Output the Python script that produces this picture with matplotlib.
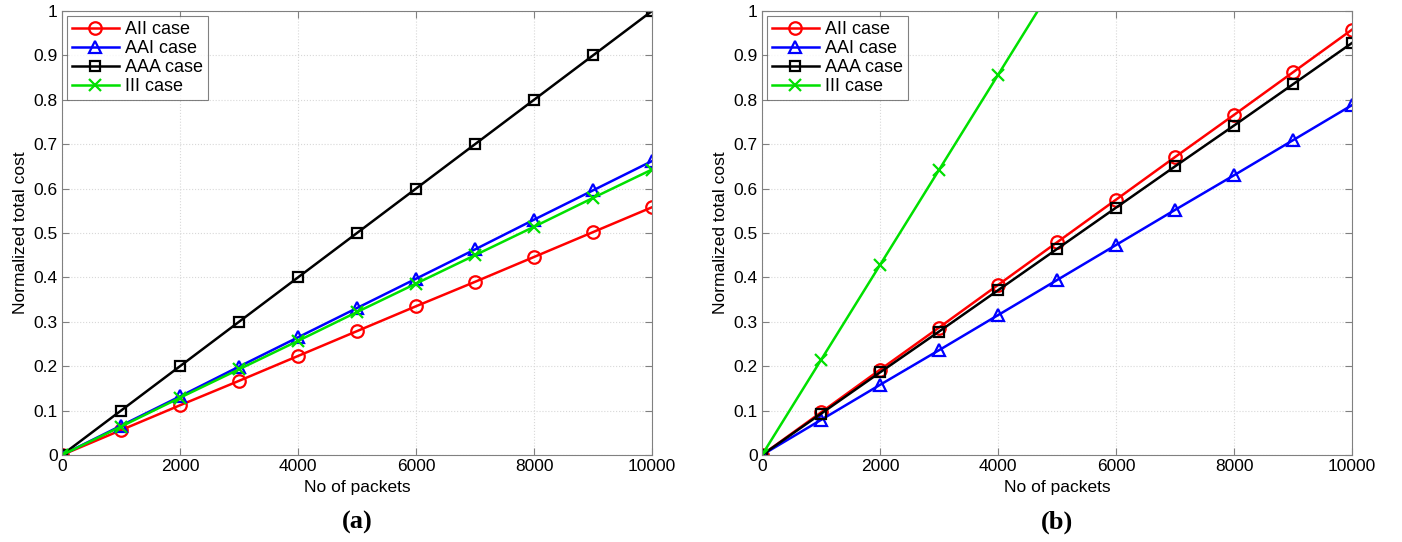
import numpy as np
import matplotlib.pyplot as plt

plt.rcParams['font.family'] = ['Liberation Sans', 'DejaVu Sans']

packets = [0, 1000, 2000, 3000, 4000, 5000, 6000, 7000, 8000, 9000, 10000]

# (a)
aii_a = [0, 0.056, 0.112, 0.167, 0.223, 0.279, 0.335, 0.390, 0.446, 0.502, 0.558]
aai_a = [0, 0.066, 0.132, 0.199, 0.265, 0.331, 0.397, 0.463, 0.530, 0.596, 0.662]
aaa_a = [0, 0.1, 0.2, 0.3, 0.4, 0.5, 0.6, 0.7, 0.8, 0.9, 1.0]
iii_a = [0, 0.064, 0.129, 0.193, 0.257, 0.322, 0.386, 0.450, 0.514, 0.579, 0.643]

# (b)
aii_b = [0, 0.096, 0.192, 0.287, 0.383, 0.479, 0.575, 0.671, 0.766, 0.862, 0.958]
aai_b = [0, 0.079, 0.158, 0.236, 0.315, 0.394, 0.473, 0.552, 0.630, 0.709, 0.788]
aaa_b = [0, 0.093, 0.186, 0.278, 0.371, 0.464, 0.557, 0.650, 0.742, 0.835, 0.928]
iii_b = [0, 0.214, 0.428, 0.642, 0.856, 1.070, 1.284, 1.498, 1.712, 1.926, 2.140]

labels = ['AII case', 'AAI case', 'AAA case', 'III case']
colors = ['#ff0000', '#0000ff', '#000000', '#00e000']
markers = ['o', '^', 's', 'x']

fig = plt.figure(figsize=(14.02, 5.42), dpi=100)
ax1 = fig.add_axes([62 / 1402, 1 - 455 / 542, 590 / 1402, 444 / 542])
ax2 = fig.add_axes([762 / 1402, 1 - 455 / 542, 590 / 1402, 444 / 542])

for ax, series, tag in [(ax1, [aii_a, aai_a, aaa_a, iii_a], '(a)'),
                        (ax2, [aii_b, aai_b, aaa_b, iii_b], '(b)')]:
    for y, lab, c, m in zip(series, labels, colors, markers):
        ax.plot(packets, y, color=c, marker=m, label=lab, lw=1.8,
                markersize=9 if m != 's' else 7.5, markerfacecolor='none',
                markeredgewidth=1.6)
    ax.set_xlim(0, 10000)
    ax.set_ylim(0, 1)
    ax.set_xticks(np.arange(0, 10001, 2000))
    ax.set_yticks(np.arange(0, 1.01, 0.1))
    ax.set_yticklabels(['0', '0.1', '0.2', '0.3', '0.4', '0.5', '0.6', '0.7', '0.8', '0.9', '1'])
    ax.tick_params(direction='in', top=True, right=True, labelsize=12.5,
                   length=5, color='#808080', pad=3)
    for s in ax.spines.values():
        s.set_color('#808080')
    ax.grid(True, linestyle=':', color='#d8d8d8', linewidth=0.8)
    ax.set_xlabel('No of packets', fontsize=12.5, labelpad=4)
    ax.set_ylabel('Normalized total cost', fontsize=12.5, labelpad=4)
    leg = ax.legend(loc='upper left', fontsize=13, fancybox=False,
                    borderaxespad=0.3, handlelength=2.6, handletextpad=0.35,
                    labelspacing=0.12, borderpad=0.25)
    leg.get_frame().set_edgecolor('#606060')
    leg.get_frame().set_linewidth(0.8)
    ax.text(0.5, -0.152, tag, transform=ax.transAxes, ha='center', va='center',
            fontsize=19, fontweight='bold', family='Liberation Serif')

fig.savefig('out.png', dpi=100)
